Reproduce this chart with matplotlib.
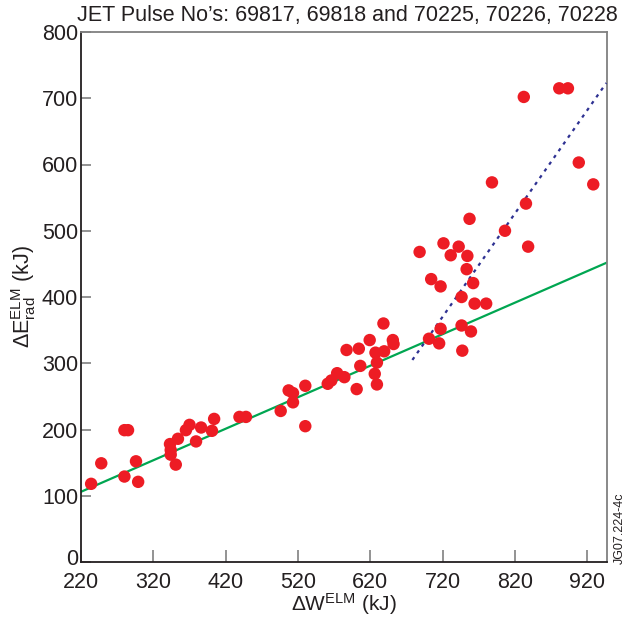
import matplotlib
matplotlib.use("Agg")
import matplotlib.pyplot as plt
import matplotlib.transforms as mtransforms
import numpy as np

plt.rcParams['font.family'] = ['Liberation Sans', 'DejaVu Sans']
plt.rcParams['mathtext.fontset'] = 'custom'
plt.rcParams['mathtext.rm'] = 'Liberation Sans'
plt.rcParams['mathtext.it'] = 'Liberation Sans'
plt.rcParams['mathtext.default'] = 'regular'

# Data
dW = [234, 248, 280, 285, 280, 296, 299, 343, 344, 344, 351, 354, 365, 370, 379,
      386, 401, 404, 439, 448, 496, 507, 513, 513, 530, 530, 561, 566, 574, 584,
      587, 601, 604, 606, 619, 626, 627, 629, 629, 638, 639, 651, 652, 688, 701,
      704, 715, 717, 717, 721, 731, 742, 746, 746, 747, 753, 754, 757, 759, 762,
      764, 780, 788, 806, 832, 835, 838, 881, 893, 908, 928]
dE = [118, 149, 199, 199, 129, 152, 121, 178, 169, 162, 147, 186, 199, 207, 182,
      203, 198, 216, 219, 219, 228, 259, 255, 241, 266, 205, 269, 274, 285, 279,
      320, 261, 322, 296, 335, 284, 316, 301, 268, 360, 318, 335, 329, 468, 337,
      427, 330, 416, 352, 481, 463, 476, 400, 357, 319, 442, 462, 518, 348, 421,
      390, 390, 573, 500, 702, 541, 476, 715, 715, 603, 570]

# Fit lines (endpoints)
green_x = [220, 947]
green_y = [106, 452]
blue_x = [678, 946]
blue_y = [305, 723]

x_ticks = [220, 320, 420, 520, 620, 720, 820, 920]
y_ticks = [0, 100, 200, 300, 400, 500, 600, 700, 800]

fig = plt.figure(figsize=(6.29, 6.19), dpi=100)
ax = fig.add_axes([81/629, 1-562/619, (607-81)/629, (562-32)/619])

ax.plot(green_x, green_y, color='#00a651', lw=1.6, zorder=2)
ax.plot(blue_x, blue_y, color='#2e3192', lw=1.6, ls=(0, (1.5, 2.2)), zorder=3)
ax.scatter(dW, dE, s=80, color='#ed1c24', edgecolors='none', zorder=4)

ax.set_xlim(220, 947)
ax.set_ylim(0, 800)
ax.set_xticks(x_ticks)
ax.set_yticks(y_ticks)
ax.tick_params(axis='both', direction='in', labelsize=15.5, color='#808080',
               width=1.2, labelcolor='#231f20')
ax.tick_params(axis='x', length=9, pad=7)
ax.tick_params(axis='y', length=7, pad=2)

for s in ['left', 'bottom']:
    ax.spines[s].set_color('#231f20')
    ax.spines[s].set_linewidth(1.3)
for s in ['top', 'right']:
    ax.spines[s].set_color('#808080')
    ax.spines[s].set_linewidth(1.3)

ax.set_xlabel(r'$\Delta\mathrm{W}^{\mathrm{ELM}}$ (kJ)', fontsize=15, labelpad=-1, color='#231f20')
ax.set_ylabel(r'$\Delta\mathrm{E}_{\mathrm{rad}}^{\mathrm{ELM}}$ (kJ)', fontsize=15.5, labelpad=3, color='#231f20')

fig.canvas.draw()
zero_lbl = ax.yaxis.get_major_ticks()[0].label1
zero_lbl.set_transform(zero_lbl.get_transform() +
                       mtransforms.ScaledTranslation(0, 5/100, fig.dpi_scale_trans))

fig.text(0.552, 1-5/619, 'JET Pulse No\u2019s: 69817, 69818 and 70225, 70226, 70228',
         ha='center', va='top', fontsize=15.5, color='#231f20')
fig.text(620/629, 1-528/619, 'JG07.224-4c', rotation=90, ha='center', va='center',
         fontsize=9, color='#231f20')

fig.savefig('out.png', dpi=100)
